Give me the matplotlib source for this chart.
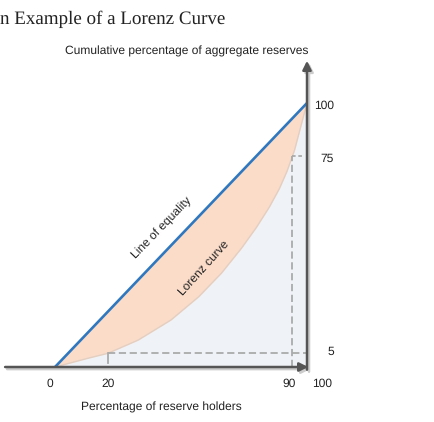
import numpy as np
import matplotlib
matplotlib.use("Agg")
import matplotlib.pyplot as plt

plt.rcParams["text.hinting"] = "no_hinting"
plt.rcParams["text.hinting_factor"] = 1

# Lorenz curve (percent of holders vs percent of reserves)
lorenz_x = [0, 13, 21, 33, 46, 57, 66, 74, 80, 85, 89, 92, 95, 97.5, 100]
lorenz_y = [0, 3.3, 5.2, 10.2, 17.8, 26.6, 35.5, 45, 53, 60.5, 67.5, 74, 82, 91, 100]

# marked points on the curve and their labels
mark_low = (21, 5.3)
mark_high = (94, 80)
x_tick_pos = [-2, 21, 93, 106]
x_tick_labels = ["0", "20", "90", "100"]
y_tick_pos = [99, 79, 5.7]
y_tick_labels = ["100", "75", "5"]

axis_col = "#555555"
blue = "#2f78c0"
peach = "#fbdcc9"
grey_fill = "#eff2f7"
dash_col = "#aaaaaa"
text_col = "#222222"

fig = plt.figure(figsize=(4.35, 4.22), dpi=100)
ax = fig.add_axes([0, 0, 1, 1])
ax.set_xlim(-21.83, 150.79)
ax.set_ylim(-20.83, 139.02)
ax.axis("off")

lx = np.array(lorenz_x)
ly = np.array(lorenz_y)

# area under the curve, then the gap between the curve and equality
ax.fill_between(lx, 0, ly, color=grey_fill, lw=0, zorder=1)
ax.fill_between(lx, ly, lx, color=peach, lw=0, zorder=2)
ax.plot(lx, ly, color="#e3cfc2", lw=1.0, zorder=2.5)

# dashed guides
ax.plot([mark_low[0], 99.5], [mark_low[1], mark_low[1]], color=dash_col,
        lw=1.3, ls=(0, (4, 2)), zorder=3)
ax.plot([mark_high[0], mark_high[0]], [0, mark_high[1]], color=dash_col,
        lw=1.3, ls=(0, (4, 2)), zorder=3)
ax.plot([mark_high[0], 98.5], [mark_high[1], mark_high[1]], color=dash_col,
        lw=1.3, ls=(0, (2, 1.5)), zorder=3)
ax.plot([mark_low[0], mark_low[0]], [mark_low[1], 1.5], color=dash_col,
        lw=1.3, zorder=3)

# line of equality
ax.plot([0, 100], [0, 100], color=blue, lw=1.9, zorder=4, solid_capstyle="butt")

# axes with arrow heads and a soft shadow
for dx, dy, col, z in [(0.8, -0.8, "#cccccc", 4.5), (0, 0, axis_col, 5)]:
    ax.annotate("", xy=(100.5 + dx, 0 + dy), xytext=(-19.8 + dx, 0 + dy),
                arrowprops=dict(arrowstyle="-|>", color=col, lw=1.8,
                                mutation_scale=13, shrinkA=0, shrinkB=0),
                zorder=z)
    ax.annotate("", xy=(100 + dx, 116 + dy), xytext=(100 + dx, -1 + dy),
                arrowprops=dict(arrowstyle="-|>", color=col, lw=1.8,
                                mutation_scale=13, shrinkA=0, shrinkB=0),
                zorder=z)

sans = "Liberation Sans"
for pos, lab in zip(x_tick_pos, x_tick_labels):
    ax.text(pos, -6.4, lab, ha="center", va="center", fontsize=8.8,
            family=sans, color=text_col)
for pos, lab in zip(y_tick_pos, y_tick_labels):
    ax.text(110.7, pos, lab, ha="right", va="center", fontsize=8.8,
            family=sans, color=text_col)

ax.text(0.43, 0.877, "Cumulative percentage of aggregate reserves",
        transform=fig.transFigure, ha="center", va="center", fontsize=8.6,
        family=sans, color=text_col)
ax.text(0.37, 0.035, "Percentage of reserve holders",
        transform=fig.transFigure, ha="center", va="center", fontsize=8.5,
        family=sans, color=text_col)

ax.text(42.5, 52.7, "Line of equality", rotation=46, ha="center", va="center",
        fontsize=8.5, family=sans, color=text_col, rotation_mode="anchor")
ax.text(59, 37.3, "Lorenz curve", rotation=48, ha="center", va="center",
        fontsize=8.5, family=sans, color=text_col, rotation_mode="anchor")

fig.text(0.0, 0.954, "n Example of a Lorenz Curve", ha="left", va="center",
         fontsize=13.4, family="Liberation Serif", color=text_col)

fig.savefig("out.png", dpi=100)
